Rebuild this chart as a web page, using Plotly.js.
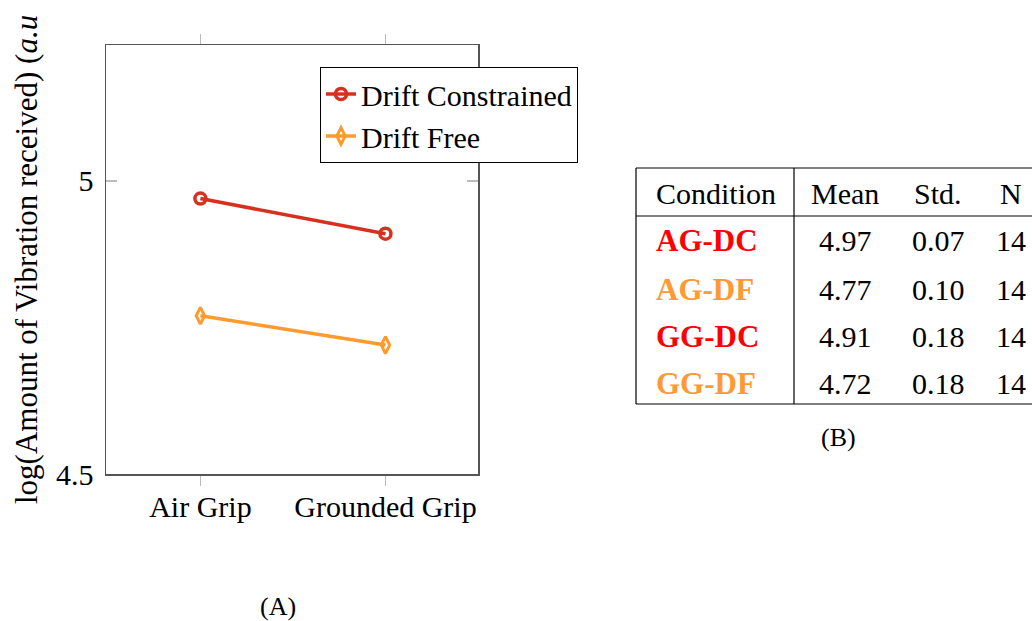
<!DOCTYPE html>
<html><head><meta charset="utf-8">
<script src="https://cdn.plot.ly/plotly-3.0.1.min.js"></script>
<style>html,body{margin:0;padding:0;background:#fff}</style>
</head><body><div id="chart" style="width:1032px;height:621px"></div>
<script>
var grips = ["Air Grip", "Grounded Grip"];
var dcMeans = [4.97, 4.91];
var dfMeans = [4.77, 4.72];
var conditions = ["AG-DC", "AG-DF", "GG-DC", "GG-DF"];
var tableMeans = [4.97, 4.77, 4.91, 4.72];
var tableStd = [0.07, 0.10, 0.18, 0.18];
var tableN = [14, 14, 14, 14];
var headers = ["Condition", "Mean", "Std.", "N"];

var W = 1032, H = 621;
var RED = "#d7301f", ORANGE = "#fe9a2e";
var condColors = ["#ff0000", "#ff9933", "#ff0000", "#ff9933"];
var FONT = "Liberation Serif";
function px(x){ return x / W; }
function py(y){ return 1 - y / H; }

var traces = [
  {x: grips, y: dcMeans, type: "scatter", mode: "lines+markers", name: "Drift Constrained",
   line: {color: RED, width: 3.5},
   marker: {symbol: "circle-open", size: 11, color: RED, line: {width: 3.5, color: RED}}},
  {x: grips, y: dfMeans, type: "scatter", mode: "lines+markers", name: "Drift Free",
   line: {color: ORANGE, width: 3.5},
   marker: {symbol: "diamond-tall-open", size: 12, color: ORANGE, line: {width: 3, color: ORANGE}}}
];

var ann = [];
var shapes = [];
function addText(x, y, text, size, color, xa){
  ann.push({xref: "paper", yref: "paper", x: px(x), y: py(y), showarrow: false,
    xanchor: xa || "center", yanchor: "middle", text: text,
    font: {family: FONT, size: size, color: color || "#000"}});
}
// y axis title
ann.push({xref: "paper", yref: "paper", x: px(26), y: py(260), showarrow: false,
  xanchor: "center", yanchor: "middle",
  textangle: -90, text: "log(Amount of Vibration received) (<i>a.u</i>",
  font: {family: FONT, size: 31, color: "#000"}});
addText(278, 606, "(A)", 26);
addText(838, 437, "(B)", 26);

// table
var tLeft = 636, tRight = 1040, tTop = 168, tHead = 216, tBottom = 404, tSep = 794;
function hline(y){ shapes.push({type: "line", xref: "paper", yref: "paper", x0: px(tLeft), x1: px(tRight), y0: py(y), y1: py(y), line: {color: "#000", width: 1.2}}); }
function vline(x){ shapes.push({type: "line", xref: "paper", yref: "paper", x0: px(x), x1: px(x), y0: py(tTop), y1: py(tBottom), line: {color: "#000", width: 1.2}}); }
hline(tTop); hline(tHead); hline(tBottom); vline(tLeft); vline(tSep);

var colX = [654, 845, 938, 1011];
var headY = 193;
var rowY = [241, 289, 336, 383];
var TF = 30;
headers.forEach(function(h, i){
  addText(colX[i], headY, h, TF, "#000", i === 0 ? "left" : "center");
});
conditions.forEach(function(c, r){
  addText(colX[0], rowY[r], "<b>" + c + "</b>", 31, condColors[r], "left");
  addText(colX[1], rowY[r], tableMeans[r].toFixed(2), TF);
  addText(colX[2], rowY[r], tableStd[r].toFixed(2), TF);
  addText(colX[3], rowY[r], String(tableN[r]), TF);
});

var layout = {
  width: W, height: H,
  margin: {l: 0, r: 0, t: 0, b: 0},
  paper_bgcolor: "#fff", plot_bgcolor: "#fff",
  font: {family: FONT, size: 30, color: "#000"},
  showlegend: true,
  legend: {x: px(320), y: py(67), xanchor: "left", yanchor: "top",
    bordercolor: "#000", borderwidth: 1, bgcolor: "#fff",
    font: {family: FONT, size: 30, color: "#000"}, tracegroupgap: 0, itemwidth: 30},
  xaxis: {domain: [px(106), px(478)], range: [-0.51, 1.5], type: "category",
    showgrid: false, zeroline: false, showline: true, linecolor: "#555", linewidth: 1.5,
    mirror: "ticks", ticks: "outside", ticklen: 10, tickcolor: "#bbb", tickwidth: 1.5,
    ticklabelstandoff: -5,
    tickfont: {family: FONT, size: 30, color: "#000"}, automargin: false},
  yaxis: {domain: [1 - 474 / H, 1 - 45 / H], range: [4.5, 5.232],
    tickvals: [4.5, 5], ticktext: ["4.5", "5"], ticklabelstandoff: 5,
    showgrid: false, zeroline: false, showline: true, linecolor: "#555", linewidth: 1.5,
    mirror: "ticks", ticks: "inside", ticklen: 11, tickcolor: "#bbb", tickwidth: 1.5,
    tickfont: {family: FONT, size: 30, color: "#000"}, automargin: false},
  annotations: ann,
  shapes: shapes
};
Plotly.newPlot("chart", traces, layout, {displayModeBar: false, staticPlot: true});
</script>
</body></html>
